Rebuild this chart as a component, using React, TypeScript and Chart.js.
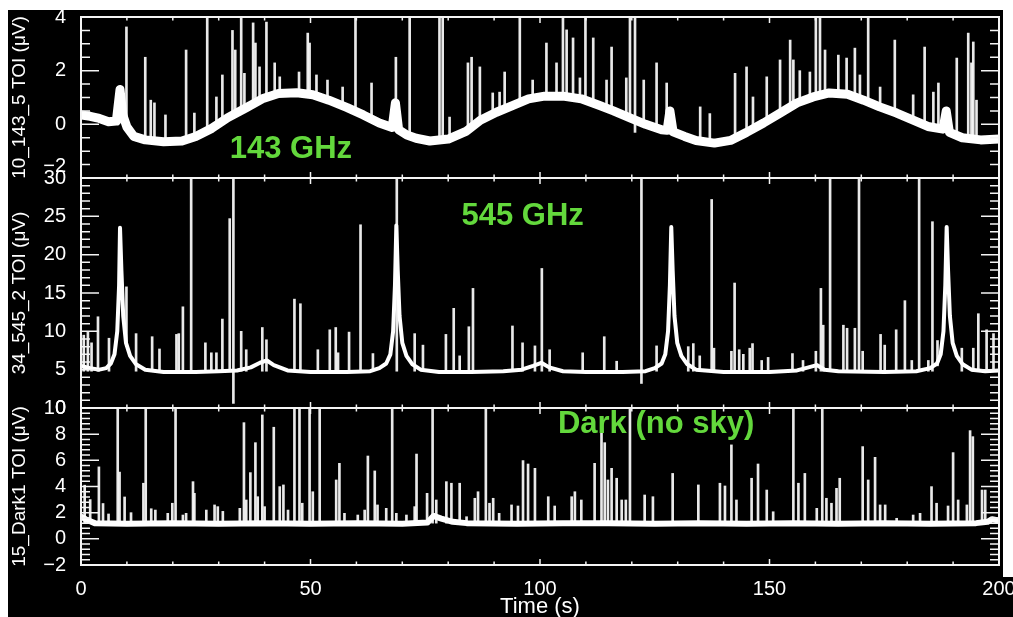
import { useEffect, useRef } from "react";
import { Chart, registerables } from "chart.js";

Chart.register(...registerables);

// ---------- data ----------
// time axis (s)
const timeMin = 0;
const timeMax = 200;
const timeMajor = 50;
const timeMinor = 10;

// panel descriptions (top -> bottom)
const panelIds = ["y1", "y2", "y3"];
const panelTitles = ["10_143_5 TOI (μV)", "34_545_2 TOI (μV)", "15_Dark1 TOI (μV)"];
const panelMin = [-2, 0, -2];
const panelMax = [4, 30, 10];
const panelMajor = [2, 5, 2];
const panelMinor = [0.5, 1, 0.4];

// green annotations [time, value] in each panel
const panelNotes = ["143 GHz", "545 GHz", "Dark (no sky)"];
const noteTime = [32.4, 82.9, 103.9];
const noteValue = [-1.25, 23.9, 8.07];

// 143 GHz baseline [time, µV]
const band143: [number, number][] = [
  [0, 0.35], [2, 0.3], [4, 0.22], [6, 0.1], [7.7, 0.12], [8.5, 1.3], [9.1, 0.35], [10, -0.1],
  [11.5, -0.45], [14, -0.58], [18, -0.65], [22, -0.62], [25, -0.45], [28.5, -0.15], [32, 0.25],
  [36, 0.62], [39.5, 0.95], [43, 1.15], [47, 1.18], [50.5, 1.1], [54, 0.9], [58, 0.62], [61.5, 0.35],
  [65, 0.05], [67.8, -0.12], [68.5, 0.8], [69.2, -0.2], [71, -0.4], [73, -0.52], [76, -0.62],
  [80, -0.55], [84, -0.25], [87, 0.15], [90.5, 0.45], [94, 0.7], [97.5, 0.95], [101, 1.05],
  [105, 1.05], [109, 0.95], [113, 0.7], [116, 0.5], [119.6, 0.24], [123, 0.0], [126.5, -0.2],
  [127.7, -0.22], [128.3, 0.5], [129.0, -0.28], [131.5, -0.45], [134, -0.6], [138, -0.7],
  [141.5, -0.6], [145, -0.3], [148.7, 0.05], [152.3, 0.42], [156, 0.8], [159.5, 1.02], [163, 1.17],
  [167, 1.12], [170.5, 0.9], [174, 0.65], [177.7, 0.42], [181.3, 0.16], [184.5, -0.08],
  [187.8, -0.18], [188.5, 0.5], [189.2, -0.3], [192, -0.5], [196, -0.58], [200, -0.55],
];

// 143 GHz glitches [time, base, peak]
const spikes143: [number, number, number][] = [
  [9.9, 0.0, 3.63], [14.0, -0.58, 2.5], [15.2, -0.6, 0.9], [16.0, -0.62, 0.8], [18.4, -0.65, 0.35],
  [22.9, -0.6, 2.77], [24.7, -0.47, 0.42], [27.5, -0.22, 4], [29.5, -0.05, 1.02], [30.8, 0.1, 1.84],
  [33.0, 0.32, 3.5], [33.6, 0.37, 2.77], [34.9, 0.5, 4], [35.6, 0.58, 1.9], [37.5, 0.76, 3.78],
  [38.0, 0.8, 3.03], [38.9, 0.9, 2.14], [40.4, 1.0, 3.81], [42.2, 1.12, 2.29], [43.3, 1.15, 1.77],
  [47.5, 1.18, 1.95], [49.4, 1.13, 3.4], [49.8, 1.12, 3.03], [51.3, 1.06, 1.84], [53.7, 0.92, 1.65],
  [57.0, 0.69, 1.39], [59.8, 0.48, 4], [63.3, 0.2, 1.54], [68.6, 0.6, 2.5], [71.6, -0.44, 4],
  [78.1, -0.6, 4], [78.8, -0.58, 4], [80.3, -0.53, 0.27], [84.3, -0.22, 2.29], [85.1, -0.1, 2.5],
  [86.9, 0.14, 2.14], [89.7, 0.38, 1.17], [91.2, 0.5, 1.2], [92.3, 0.58, 1.95], [95.6, 0.82, 4],
  [98.4, 0.97, 1.65], [101.4, 1.05, 3.03], [103.6, 1.05, 2.29], [105.0, 1.05, 4], [105.8, 1.03, 3.52],
  [107.2, 1.0, 3.22], [108.7, 0.96, 1.73], [109.9, 0.9, 4], [111.6, 0.8, 3.22], [114.5, 0.6, 1.65],
  [115.6, 0.53, 2.88], [118.8, 0.3, 1.73], [119.6, 0.24, 4], [120.7, -0.3, 4], [122.6, 0.05, 1.65],
  [125.4, -0.14, 2.29], [127.6, -0.1, 1.54], [134.9, -0.62, 0.65], [137.0, -0.68, 0.4],
  [142.5, -0.52, 1.9], [145.0, -0.31, 2.14], [146.4, -0.17, 1.02], [149.4, 0.12, 1.77],
  [152.3, 0.42, 2.4], [154.5, 0.64, 3.14], [155.2, 0.72, 2.4], [156.6, 0.84, 2.0], [158.8, 0.98, 1.95],
  [160.1, 1.05, 4], [161.0, 1.09, 4], [162.1, 1.14, 2.77], [165.0, 1.15, 2.58], [166.8, 1.12, 2.47],
  [168.6, 1.02, 2.84], [169.7, 0.96, 1.84], [171.5, 0.83, 4], [174.1, 0.65, 1.39], [177.3, 0.44, 3.14],
  [181.3, 0.16, 1.1], [183.8, -0.06, 2.88], [185.7, -0.13, 1.2], [186.8, -0.1, 1.54],
  [190.8, -0.42, 2.47], [193.3, -0.52, 3.4], [194.0, -0.54, 2.29], [194.4, -0.55, 3.07],
  [195.1, -0.56, 0.9],
];

// 545 GHz baseline [time, µV]
const band545: [number, number][] = [
  [0, 5.5], [2, 5.2], [4, 5.0], [5.5, 5.2], [6.5, 5.8], [7.3, 7.0], [7.9, 10], [8.3, 16], [8.5, 23.5],
  [8.8, 18], [9.2, 12], [9.8, 8.5], [10.7, 6.8], [12, 5.7], [14, 5.0], [18, 4.7], [25, 4.7], [30, 4.8],
  [34, 4.9], [37, 5.3], [39, 5.9], [40.5, 6.2], [42, 5.6], [45, 4.9], [50, 4.7], [58, 4.7], [63, 4.8],
  [65, 5.2], [66.5, 5.8], [67.4, 7], [68, 10], [68.4, 16], [68.7, 23.8], [69, 18], [69.4, 12],
  [70, 8.5], [70.9, 6.8], [72.2, 5.7], [74, 5.0], [78, 4.7], [85, 4.7], [92, 4.8], [96, 5.0],
  [98.5, 5.5], [100.3, 5.9], [102, 5.3], [105, 4.8], [110, 4.7], [118, 4.7], [123, 4.8], [125, 5.2],
  [126.5, 5.8], [127.3, 7], [127.9, 10], [128.3, 16], [128.6, 23.6], [128.9, 18], [129.3, 12],
  [129.9, 8.5], [130.8, 6.8], [132.1, 5.7], [134, 5.0], [140, 4.7], [150, 4.7], [156, 4.9],
  [158.5, 5.3], [160.3, 5.6], [162, 5.0], [165, 4.8], [175, 4.7], [182, 4.8], [185, 5.2], [186.5, 5.8],
  [187.3, 7], [187.9, 10], [188.3, 16], [188.6, 23.6], [188.9, 18], [189.3, 12], [189.9, 8.5],
  [190.8, 6.8], [192.1, 5.7], [194, 5.0], [197, 4.8], [200, 4.9],
];

// 545 GHz glitches [time, base, peak]
const spikes545: [number, number, number][] = [
  [0.6, 4.8, 9.5], [1.5, 4.8, 10.0], [2.3, 4.8, 8.5], [3.7, 4.8, 11.9], [6.1, 4.8, 9.1],
  [9.9, 8.0, 15.8], [12.0, 4.8, 9.7], [15.5, 4.8, 9.3], [17.1, 4.8, 7.7], [20.8, 4.8, 9.6],
  [21.3, 4.8, 9.7], [22.2, 4.8, 13.2], [24.0, 4.8, 30], [27.1, 4.8, 8.5], [28.4, 4.8, 7.2],
  [29.5, 4.8, 7.2], [30.8, 4.8, 11.6], [32.4, 4.8, 24.7], [33.2, 0.6, 30], [34.9, 4.8, 10.0],
  [36.0, 4.8, 7.6], [39.5, 4.8, 10.5], [40.4, 4.8, 8.9], [46.5, 4.8, 14.2], [47.8, 4.8, 13.6],
  [51.6, 4.8, 7.6], [54.2, 4.8, 10.2], [55.5, 4.8, 10.5], [56.0, 4.8, 7.2], [58.4, 4.8, 9.9],
  [60.9, 4.8, 23.9], [63.6, 4.8, 7.1], [68.8, 4.8, 30], [72.7, 4.8, 9.7], [74.5, 4.8, 8.2],
  [79.5, 4.8, 9.6], [81.2, 4.8, 13.0], [82.5, 4.8, 6.8], [84.5, 4.8, 10.6], [85.4, 4.8, 15.6],
  [94.0, 4.8, 10.7], [96.2, 4.8, 8.5], [98.9, 4.8, 8.1], [100.4, 4.8, 18.2], [102.1, 4.8, 7.6],
  [109.3, 4.8, 7.2], [114.0, 4.8, 9.3], [116.7, 4.8, 6.1], [122.1, 3.2, 30], [125.4, 4.8, 8.1],
  [132.3, 4.8, 8.0], [133.4, 4.8, 8.4], [134.8, 4.8, 6.8], [137.4, 4.8, 27.2], [137.9, 4.8, 7.8],
  [141.7, 4.8, 7.4], [142.4, 4.8, 16.3], [143.4, 4.8, 7.6], [144.3, 4.8, 7.0], [145.7, 4.8, 7.8],
  [146.3, 4.8, 8.4], [148.3, 4.8, 6.2], [149.7, 4.8, 6.6], [155.0, 4.8, 7.1], [157.3, 4.8, 6.2],
  [160.1, 4.8, 7.4], [161.2, 4.8, 15.6], [161.7, 4.8, 10.8], [163.2, 4.8, 30], [166.1, 4.8, 10.8],
  [166.9, 4.8, 10.4], [168.6, 4.8, 10.4], [169.5, 4.8, 30], [170.3, 4.8, 7.4], [174.2, 4.8, 9.6],
  [175.1, 4.8, 8.2], [177.6, 4.8, 10.2], [179.5, 4.8, 14.0], [181.0, 4.8, 6.2], [182.6, 4.8, 30],
  [184.6, 4.8, 6.2], [185.5, 4.8, 24.3], [186.6, 5.5, 8.8], [191.9, 4.8, 7.8], [194.4, 4.8, 7.8],
  [195.5, 4.8, 12.3], [197.3, 4.8, 10.2], [198.8, 4.8, 9.7],
];

// Dark bolometer baseline [time, µV]
const bandDark: [number, number][] = [
  [0, 1.7], [1, 1.5], [2, 1.35], [3, 1.2], [10, 1.15], [20, 1.2], [30, 1.15], [40, 1.2], [50, 1.15],
  [60, 1.2], [70, 1.15], [75.5, 1.25], [76.8, 1.75], [78.5, 1.55], [81, 1.3], [84, 1.2], [95, 1.15],
  [105, 1.2], [115, 1.2], [125, 1.15], [135, 1.2], [145, 1.15], [155, 1.2], [165, 1.15], [175, 1.2],
  [185, 1.15], [195, 1.2], [197.5, 1.3], [198.5, 1.5], [200, 1.4],
];

// Dark bolometer glitches [time, base, peak]
const spikesDark: [number, number, number][] = [
  [0.8, 1.2, 4.1], [2.0, 1.2, 3.0], [3.9, 1.2, 5.5], [4.8, 1.2, 2.7], [6.0, 1.2, 1.9], [8.0, 1.2, 10],
  [8.4, 1.2, 5.1], [9.5, 1.2, 3.2], [10.9, 1.2, 2.0], [13.6, 1.2, 4.25], [14.1, 1.2, 10],
  [15.3, 1.2, 2.3], [16.2, 1.2, 2.2], [18.9, 1.2, 1.95], [19.9, 1.2, 2.72], [20.6, 1.2, 10],
  [22.2, 1.2, 1.82], [22.9, 1.2, 1.95], [24.4, 1.2, 4.37], [24.7, 1.2, 3.48], [27.3, 1.2, 2.2],
  [29.1, 1.2, 2.59], [29.8, 1.2, 2.46], [30.9, 1.2, 2.1], [34.6, 1.2, 2.33], [35.5, 1.2, 8.88],
  [36.0, 1.2, 2.97], [36.9, 1.2, 5.06], [38.0, 1.2, 7.35], [38.5, 1.2, 3.22], [39.5, 1.2, 9.47],
  [40.0, 1.2, 2.46], [42.0, 1.2, 8.53], [43.3, 1.2, 3.99], [44.1, 1.2, 4.12], [45.1, 1.2, 2.2],
  [46.5, 1.2, 10], [47.6, 1.2, 10], [48.2, 1.2, 2.72], [49.8, 1.2, 10], [50.5, 1.2, 3.6],
  [52.0, 1.2, 10], [55.6, 1.2, 4.5], [56.3, 1.2, 5.77], [57.4, 1.2, 1.95], [60.3, 1.2, 1.82],
  [61.8, 1.2, 2.2], [62.5, 1.2, 6.33], [64.0, 1.2, 5.19], [64.6, 1.2, 2.59], [66.5, 1.2, 2.33],
  [67.8, 1.2, 10], [68.7, 1.2, 1.95], [70.9, 1.2, 1.82], [72.7, 1.2, 2.46], [73.1, 1.2, 6.48],
  [75.4, 1.2, 3.48], [76.6, 1.2, 10], [77.4, 1.2, 2.97], [79.6, 1.2, 4.37], [80.7, 1.2, 4.25],
  [82.5, 1.2, 4.25], [84.0, 1.2, 1.69], [85.8, 1.2, 3.1], [86.5, 1.2, 3.6], [88.2, 1.2, 10],
  [89.0, 1.2, 2.72], [89.8, 1.2, 3.1], [91.1, 1.2, 1.95], [93.8, 1.2, 2.59], [95.2, 1.2, 2.51],
  [96.3, 1.2, 5.98], [97.4, 1.2, 5.72], [98.9, 1.2, 5.39], [101.8, 1.2, 3.22], [103.2, 1.2, 2.51],
  [106.9, 1.2, 3.22], [107.6, 1.2, 3.6], [109.0, 1.2, 2.97], [111.9, 1.2, 5.77], [113.4, 1.2, 8.19],
  [114.1, 1.2, 7.35], [114.8, 1.2, 4.5], [115.6, 1.2, 5.39], [116.7, 1.2, 4.63], [117.8, 1.2, 2.97],
  [118.7, 1.2, 2.97], [119.6, 1.2, 10], [122.8, 1.2, 3.35], [124.6, 1.2, 3.22], [128.9, 1.2, 5.0],
  [134.5, 1.2, 4.12], [139.2, 1.2, 4.25], [140.3, 1.2, 4.04], [141.7, 1.2, 7.18], [142.8, 1.2, 2.97],
  [146.1, 1.2, 4.63], [147.5, 1.2, 5.72], [149.4, 1.2, 3.73], [150.8, 1.2, 2.07], [155.2, 1.2, 10],
  [156.3, 1.2, 4.25], [157.7, 1.2, 5.0], [160.3, 1.2, 2.33], [161.5, 1.2, 10], [162.4, 1.2, 3.1],
  [163.5, 1.2, 2.72], [164.6, 1.2, 3.86], [165.3, 1.2, 4.63], [170.3, 1.2, 7.05], [171.5, 1.2, 4.5],
  [173.0, 1.2, 6.23], [174.1, 1.2, 2.59], [175.2, 1.2, 2.59], [177.7, 1.2, 1.57], [181.3, 1.2, 1.82],
  [182.8, 1.2, 1.95], [185.3, 1.2, 3.99], [186.4, 1.2, 2.72], [188.9, 1.2, 2.51], [190.0, 1.2, 6.59],
  [191.1, 1.2, 2.97], [193.0, 1.2, 2.59], [193.7, 1.2, 8.27], [194.3, 1.2, 7.81], [196.3, 1.2, 3.73],
  [197.0, 1.2, 3.73],
];

// ---------- chart ----------
const FONT = '"Liberation Sans", Arial, sans-serif';
const panelBands = [band143, band545, bandDark];
const panelSpikes = [spikes143, spikes545, spikesDark];
const bandWidth = [9, 4, 6];
const stackWeights = [161, 230, 157];

const backgroundPlugin = {
  id: "bg",
  beforeDraw(chart: any) {
    const { ctx, width, height } = chart;
    ctx.save();
    ctx.fillStyle = "#000";
    ctx.fillRect(0, 0, width, height);
    ctx.fillStyle = "#fff";
    ctx.fillRect(995, 0, width - 995, 567);
    ctx.restore();
  },
};

const framePlugin = {
  id: "frame",
  afterDatasetsDraw(chart: any) {
    const ctx = chart.ctx;
    const x = chart.scales.x;
    ctx.save();
    panelIds.forEach((id, i) => {
      const s = chart.scales[id];
      ctx.strokeStyle = "#f4f4f4";
      ctx.lineWidth = 2;
      ctx.strokeRect(x.left, s.top, x.right - x.left, s.bottom - s.top);
      ctx.lineWidth = 1.5;
      ctx.beginPath();
      const n = Math.round((panelMax[i] - panelMin[i]) / panelMinor[i]);
      for (let k = 0; k <= n; k++) {
        const v = panelMin[i] + k * panelMinor[i];
        const r = v / panelMajor[i];
        const major = Math.abs(r - Math.round(r)) < 1e-6;
        const len = major ? 18 : 9;
        const py = s.getPixelForValue(v);
        ctx.moveTo(x.left, py);
        ctx.lineTo(x.left + len, py);
        ctx.moveTo(x.right, py);
        ctx.lineTo(x.right - len, py);
      }
      for (let t = timeMin; t <= timeMax; t += timeMinor) {
        const len = t % timeMajor === 0 ? 6 : 3.5;
        const px = x.getPixelForValue(t);
        ctx.moveTo(px, s.bottom);
        ctx.lineTo(px, s.bottom - len);
        ctx.moveTo(px, s.top);
        ctx.lineTo(px, s.top + len);
      }
      ctx.stroke();
      ctx.fillStyle = "#63d83c";
      ctx.font = `bold 31px ${FONT}`;
      ctx.textAlign = "left";
      ctx.textBaseline = "alphabetic";
      ctx.fillText(panelNotes[i], x.getPixelForValue(noteTime[i]), s.getPixelForValue(noteValue[i]));
    });
    ctx.restore();
  },
};

export default function App() {
  const ref = useRef<HTMLCanvasElement>(null);

  useEffect(() => {
    const canvas = ref.current;
    if (!canvas) return;
    Chart.defaults.font.family = FONT;

    const datasets: any[] = [];
    panelIds.forEach((id, i) => {
      datasets.push({
        type: "bar",
        data: panelSpikes[i].map(([t, lo, hi]) => ({ x: t, y: [lo, hi] })),
        xAxisID: "x",
        yAxisID: id,
        backgroundColor: "rgba(245,245,245,0.95)",
        borderWidth: 0,
        barThickness: 2,
        grouped: false,
        order: 2,
      });
      datasets.push({
        type: "line",
        data: panelBands[i].map(([t, v]) => ({ x: t, y: v })),
        xAxisID: "x",
        yAxisID: id,
        borderColor: "#ffffff",
        borderWidth: bandWidth[i],
        pointRadius: 0,
        tension: 0,
        fill: false,
        borderJoinStyle: "round",
        borderCapStyle: "round",
        order: 1,
      });
    });

    const scales: any = {
      x: {
        type: "linear",
        position: "bottom",
        min: timeMin,
        max: timeMax,
        offset: false,
        grid: { display: false, drawTicks: false },
        border: { display: false },
        ticks: {
          stepSize: timeMajor,
          color: "#ffffff",
          padding: 12,
          font: { size: 20 },
          maxRotation: 0,
          autoSkip: false,
        },
        title: {
          display: true,
          text: "Time (s)",
          color: "#ffffff",
          font: { size: 22, lineHeight: 1 },
          padding: { top: 0, bottom: -1 },
        },
        afterFit: (s: any) => {
          s.height = 52;
          s.paddingLeft = 0;
          s.paddingRight = 0;
        },
      },
    };
    panelIds.forEach((id, i) => {
      scales[id] = {
        type: "linear",
        position: "left",
        stack: "panels",
        stackWeight: stackWeights[i],
        weight: 3 - i,
        min: panelMin[i],
        max: panelMax[i],
        offset: false,
        grid: { display: false, drawTicks: false },
        border: { display: false },
        ticks: {
          stepSize: panelMajor[i],
          autoSkip: false,
          color: "#ffffff",
          padding: 15,
          font: { size: 20 },
          callback: (v: any) => {
            const label = String(v).replace("-", "−");
            // the lowest label of the top panel sits a little higher, as in the reference
            return i === 0 && v === panelMin[0] ? [label, ""] : label;
          },
        },
        title: {
          display: true,
          text: panelTitles[i],
          color: "#ffffff",
          font: { size: 19, lineHeight: 1 },
          padding: { top: 2.5, bottom: 0 },
        },
        afterFit: (s: any) => {
          s.width = 73;
          s.paddingTop = 0;
          s.paddingBottom = 0;
        },
      };
    });

    const chart = new Chart(canvas, {
      type: "line",
      data: { datasets },
      options: {
        responsive: false,
        animation: false,
        events: [],
        layout: { padding: { top: 7, right: 14, left: 0, bottom: 0 } },
        plugins: { legend: { display: false }, tooltip: { enabled: false } },
        scales,
      },
      plugins: [backgroundPlugin, framePlugin],
    } as any);

    return () => chart.destroy();
  }, []);

  return (
    <div style={{ position: "fixed", left: 8, top: 10, width: 1005, height: 607 }}>
      <canvas ref={ref} width={1005} height={607} style={{ display: "block" }} />
    </div>
  );
}
